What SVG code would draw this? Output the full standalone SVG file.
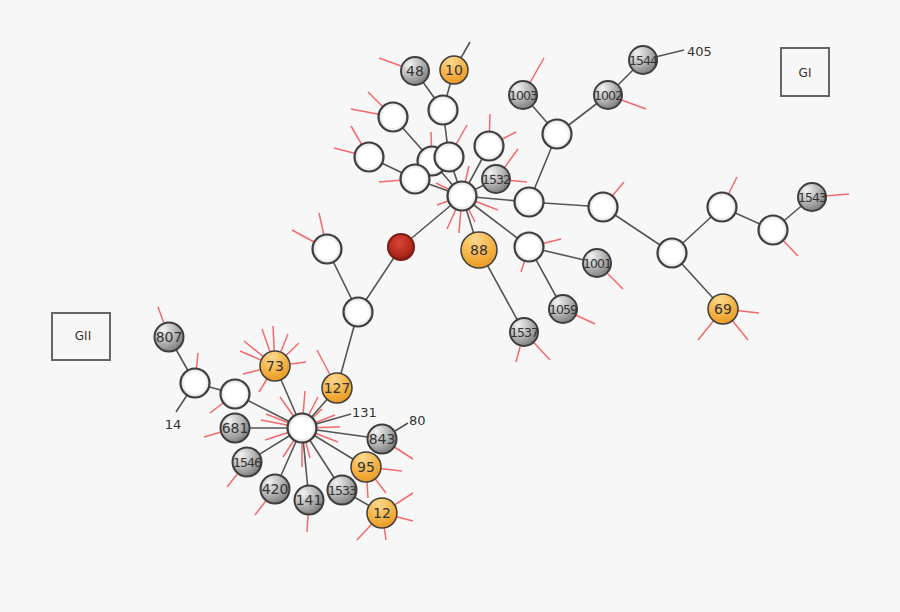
<svg xmlns="http://www.w3.org/2000/svg" width="900" height="612" viewBox="0 0 900 612">
<defs>
<radialGradient id="gw" cx="50%" cy="50%" r="50%"><stop offset="0.72" stop-color="#ffffff"/><stop offset="1" stop-color="#d4d4d4"/></radialGradient>
<radialGradient id="gg" cx="30%" cy="25%" r="85%"><stop offset="0" stop-color="#f2f2f2"/><stop offset="0.5" stop-color="#b8b8b8"/><stop offset="1" stop-color="#767676"/></radialGradient>
<radialGradient id="go" cx="40%" cy="20%" r="85%"><stop offset="0" stop-color="#fcd98e"/><stop offset="0.6" stop-color="#f3b143"/><stop offset="1" stop-color="#e9961e"/></radialGradient>
<radialGradient id="gr" cx="45%" cy="35%" r="65%"><stop offset="0" stop-color="#d9443a"/><stop offset="0.7" stop-color="#b52a1e"/><stop offset="1" stop-color="#8a1a12"/></radialGradient>
</defs>
<style>
.e{stroke:#555;stroke-width:1.6;fill:none}
.s{stroke:#f46a6a;stroke-width:1.5;fill:none}
.w{fill:url(#gw);stroke:#3e3e3e;stroke-width:2.2}
.g{fill:url(#gg);stroke:#3e3e3e;stroke-width:2}
.o{fill:url(#go);stroke:#3e3e3e;stroke-width:1.5}
.r{fill:url(#gr);stroke:#7a1d14;stroke-width:2}
text{font-family:"DejaVu Sans","Liberation Sans",sans-serif;fill:#333}
.l{font-size:14px;text-anchor:middle}
.l4{font-size:12.5px;text-anchor:middle;letter-spacing:-1px}
.t{font-size:13px}
.box{fill:none;stroke:#666;stroke-width:2}
</style>
<rect width="900" height="612" fill="#f7f7f7"/>
<g id="spokes">
<path class="s" d="M415,71L379,58 M393,117L368,92 M393,117L351,109 M369,157L351,126 M369,157L334,148 M415,179L379,182 M432,161L431,132 M449,157L467,125 M489,146L490,114 M489,146L516,132 M496,179L518,149 M496,179L527,182 M523,95L544,58 M608,95L646,109 M603,207L624,182 M529,247L561,239 M529,247L521,272 M597,263L623,289 M563,309L595,324 M524,332L550,360 M524,332L516,362"/>
<path class="s" d="M462,196L436,183 M462,196L437,205 M462,196L447,229 M462,196L459,233 M462,196L475,222 M462,196L498,210 M462,196L469,166"/>
<path class="s" d="M722,207L737,177 M773,230L798,256 M812,197L849,194 M723,309L759,313 M723,309L698,340 M723,309L748,340 M327,249L292,230 M327,249L319,213 M337,388L317,350"/>
<path class="s" d="M275,366L240,351 M275,366L244,341 M275,366L262,329 M275,366L273,326 M275,366L288,334 M275,366L299,343 M275,366L306,362 M275,366L243,374 M275,366L259,392"/>
<path class="s" d="M169,337L158,307 M195,383L198,353 M235,394L210,413 M235,428L204,437 M247,462L227,487 M275,489L255,515 M309,500L307,532 M382,439L413,459 M366,467L402,471 M366,467L386,493 M366,467L368,498 M382,513L413,493 M382,513L413,521 M382,513L386,540 M382,513L357,540"/>
<path class="s" d="M302,428L280,397 M302,428L305,391 M302,428L318,397 M302,428L322,409 M302,428L266,414 M302,428L261,420 M302,428L265,440 M302,428L283,457 M302,428L302,467 M302,428L310,458 M302,428L335,415 M302,428L340,427 M302,428L338,442"/>
</g>
<g id="edges">
<path class="e" d="M415,71L443,110 M454,70L443,110 M454,70L470,42 M443,110L449,157 M393,117L432,161 M369,157L415,179 M415,179L462,196 M432,161L462,196 M449,157L462,196 M489,146L462,196 M496,179L462,196 M462,196L529,202 M462,196L529,247 M462,196L479,250 M462,196L401,247 M529,202L557,134 M557,134L523,95 M557,134L608,95 M608,95L643,60 M643,60L684,50 M529,202L603,207 M603,207L672,253 M672,253L722,207 M722,207L773,230 M773,230L812,197 M672,253L723,309 M529,247L597,263 M529,247L563,309 M479,250L524,332"/>
<path class="e" d="M401,247L358,312 M327,249L358,312 M358,312L337,388 M337,388L302,428 M302,428L275,366 M302,428L235,394 M235,394L195,383 M195,383L169,337 M195,383L176,412 M302,428L235,428 M302,428L247,462 M302,428L275,489 M302,428L309,500 M302,428L342,490 M342,490L382,513 M302,428L366,467 M302,428L382,439 M302,428L351,414 M382,439L408,423"/>
</g>
<g id="n48"><circle class="g" cx="415" cy="71" r="14"/><text class="l" x="415" y="76">48</text></g>
<g id="n10"><circle class="o" cx="454" cy="70" r="14"/><text class="l" x="454" y="75">10</text></g>
<g id="nA"><circle class="w" cx="443" cy="110" r="14.5"/></g>
<g id="nB"><circle class="w" cx="393" cy="117" r="14.5"/></g>
<g id="nC"><circle class="w" cx="369" cy="157" r="14.5"/></g>
<g id="nD"><circle class="w" cx="432" cy="161" r="14.5"/></g>
<g id="nE"><circle class="w" cx="449" cy="157" r="14.5"/></g>
<g id="nF"><circle class="w" cx="415" cy="179" r="14.5"/></g>
<g id="nG"><circle class="w" cx="489" cy="146" r="14.5"/></g>
<g id="n1532"><circle class="g" cx="496" cy="179" r="14"/><text class="l4" x="496" y="183.5">1532</text></g>
<g id="nH"><circle class="w" cx="462" cy="196" r="14.5"/></g>
<g id="n1003"><circle class="g" cx="523" cy="95" r="14"/><text class="l4" x="523" y="99.5">1003</text></g>
<g id="nJ"><circle class="w" cx="557" cy="134" r="14.5"/></g>
<g id="n1002"><circle class="g" cx="608" cy="95" r="14"/><text class="l4" x="608" y="99.5">1002</text></g>
<g id="n1544"><circle class="g" cx="643" cy="60" r="14"/><text class="l4" x="643" y="64.5">1544</text></g>
<g id="nK"><circle class="w" cx="529" cy="202" r="14.5"/></g>
<g id="nL"><circle class="w" cx="603" cy="207" r="14.5"/></g>
<g id="nM"><circle class="w" cx="529" cy="247" r="14.5"/></g>
<g id="n1001"><circle class="g" cx="597" cy="263" r="14"/><text class="l4" x="597" y="267.5">1001</text></g>
<g id="n1059"><circle class="g" cx="563" cy="309" r="14"/><text class="l4" x="563" y="313.5">1059</text></g>
<g id="n88"><circle class="o" cx="479" cy="250" r="18"/><text class="l" x="479" y="255">88</text></g>
<g id="n1537"><circle class="g" cx="524" cy="332" r="14"/><text class="l4" x="524" y="336.5">1537</text></g>
<g id="nN"><circle class="w" cx="672" cy="253" r="14.5"/></g>
<g id="nO"><circle class="w" cx="722" cy="207" r="14.5"/></g>
<g id="nP"><circle class="w" cx="773" cy="230" r="14.5"/></g>
<g id="n1543"><circle class="g" cx="812" cy="197" r="14"/><text class="l4" x="812" y="201.5">1543</text></g>
<g id="n69"><circle class="o" cx="723" cy="309" r="15"/><text class="l" x="723" y="314">69</text></g>
<g id="nQ"><circle class="w" cx="327" cy="249" r="14.5"/></g>
<g id="nRed"><circle class="r" cx="401" cy="247" r="13"/></g>
<g id="nR"><circle class="w" cx="358" cy="312" r="14.5"/></g>
<g id="n127"><circle class="o" cx="337" cy="388" r="15"/><text class="l" x="337" y="393">127</text></g>
<g id="n73"><circle class="o" cx="275" cy="366" r="15"/><text class="l" x="275" y="371">73</text></g>
<g id="nS"><circle class="w" cx="195" cy="383" r="14.5"/></g>
<g id="nT"><circle class="w" cx="235" cy="394" r="14.5"/></g>
<g id="n807"><circle class="g" cx="169" cy="337" r="14.5"/><text class="l" x="169" y="342">807</text></g>
<g id="nHub2"><circle class="w" cx="302" cy="428" r="14.5"/></g>
<g id="n681"><circle class="g" cx="235" cy="428" r="14.5"/><text class="l" x="235" y="433">681</text></g>
<g id="n1546"><circle class="g" cx="247" cy="462" r="14.5"/><text class="l4" x="247" y="466.5">1546</text></g>
<g id="n420"><circle class="g" cx="275" cy="489" r="14.5"/><text class="l" x="275" y="494">420</text></g>
<g id="n141"><circle class="g" cx="309" cy="500" r="14.5"/><text class="l" x="309" y="505">141</text></g>
<g id="n1533"><circle class="g" cx="342" cy="490" r="14.5"/><text class="l4" x="342" y="494.5">1533</text></g>
<g id="n843"><circle class="g" cx="382" cy="439" r="14.5"/><text class="l" x="382" y="444">843</text></g>
<g id="n95"><circle class="o" cx="366" cy="467" r="15"/><text class="l" x="366" y="472">95</text></g>
<g id="n12"><circle class="o" cx="382" cy="513" r="15"/><text class="l" x="382" y="518">12</text></g>
<g id="labels">
<text class="t" x="687" y="56">405</text>
<text class="t" x="173" y="429" text-anchor="middle">14</text>
<text class="t" x="352" y="417">131</text>
<text class="t" x="409" y="425">80</text>
</g>
<g id="GI"><rect class="box" x="781" y="48" width="48" height="48"/><text x="805" y="77" font-size="12" text-anchor="middle">GI</text></g>
<g id="GII"><rect class="box" x="52" y="313" width="58" height="47"/><text x="83" y="340" font-size="12" text-anchor="middle">GII</text></g>
</svg>
